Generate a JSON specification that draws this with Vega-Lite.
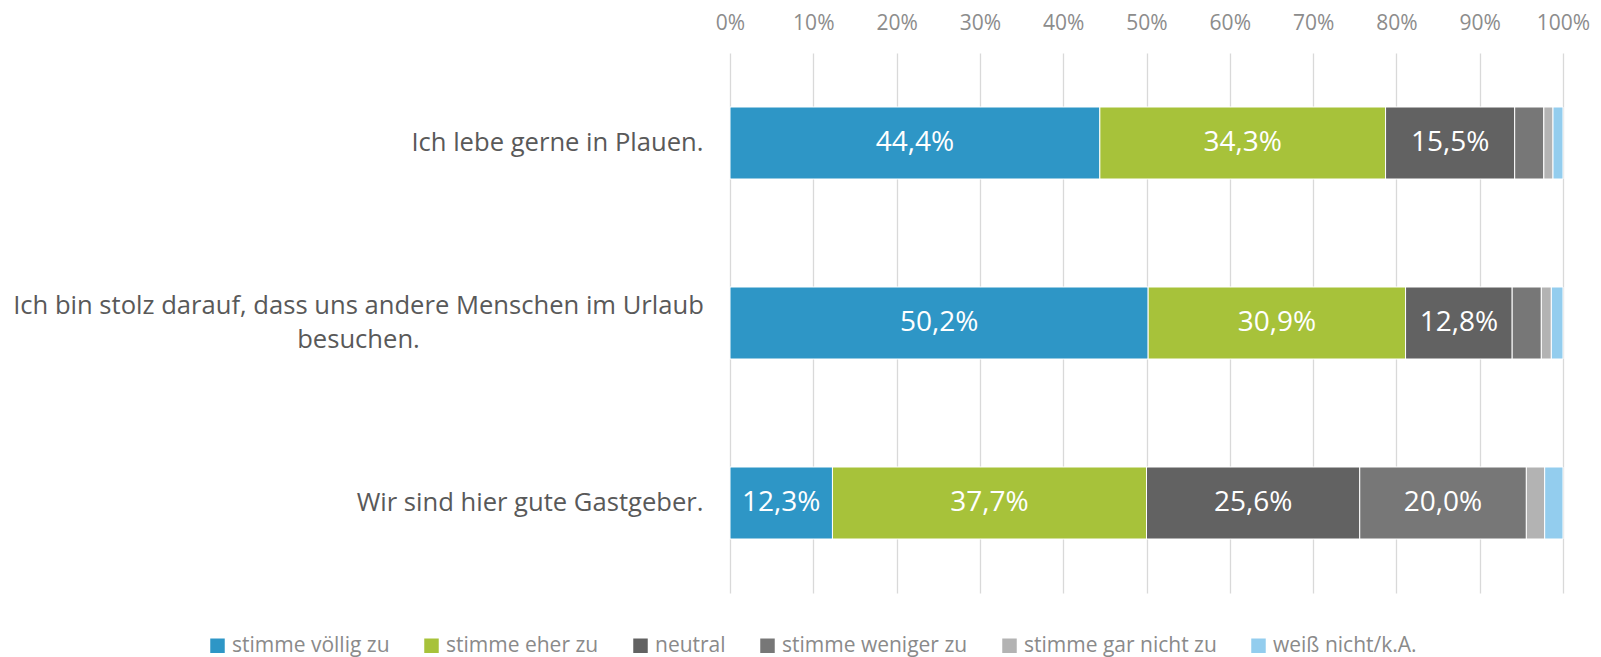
{
  "$schema": "https://vega.github.io/schema/vega-lite/v6.json",
  "autosize": "none",
  "width": 833,
  "height": 540,
  "padding": {"left": 730, "top": 53, "right": 38, "bottom": 64},
  "config": {
    "view": {"stroke": null},
    "font": "Open Sans",
    "locale": {"number": {"decimal": ",", "thousands": ".", "grouping": [3], "currency": ["", " €"]}}
  },
  "data": {"values": [
    {"q": "Ich lebe gerne in Plauen.", "c": "stimme völlig zu", "k": 1, "v": 0.444},
    {"q": "Ich lebe gerne in Plauen.", "c": "stimme eher zu", "k": 2, "v": 0.343},
    {"q": "Ich lebe gerne in Plauen.", "c": "neutral", "k": 3, "v": 0.155},
    {"q": "Ich lebe gerne in Plauen.", "c": "stimme weniger zu", "k": 4, "v": 0.035},
    {"q": "Ich lebe gerne in Plauen.", "c": "stimme gar nicht zu", "k": 5, "v": 0.011},
    {"q": "Ich lebe gerne in Plauen.", "c": "weiß nicht/k.A.", "k": 6, "v": 0.012},
    {"q": "Ich bin stolz darauf, dass uns andere Menschen im Urlaub besuchen.", "c": "stimme völlig zu", "k": 1, "v": 0.502},
    {"q": "Ich bin stolz darauf, dass uns andere Menschen im Urlaub besuchen.", "c": "stimme eher zu", "k": 2, "v": 0.309},
    {"q": "Ich bin stolz darauf, dass uns andere Menschen im Urlaub besuchen.", "c": "neutral", "k": 3, "v": 0.128},
    {"q": "Ich bin stolz darauf, dass uns andere Menschen im Urlaub besuchen.", "c": "stimme weniger zu", "k": 4, "v": 0.035},
    {"q": "Ich bin stolz darauf, dass uns andere Menschen im Urlaub besuchen.", "c": "stimme gar nicht zu", "k": 5, "v": 0.012},
    {"q": "Ich bin stolz darauf, dass uns andere Menschen im Urlaub besuchen.", "c": "weiß nicht/k.A.", "k": 6, "v": 0.014},
    {"q": "Wir sind hier gute Gastgeber.", "c": "stimme völlig zu", "k": 1, "v": 0.123},
    {"q": "Wir sind hier gute Gastgeber.", "c": "stimme eher zu", "k": 2, "v": 0.377},
    {"q": "Wir sind hier gute Gastgeber.", "c": "neutral", "k": 3, "v": 0.256},
    {"q": "Wir sind hier gute Gastgeber.", "c": "stimme weniger zu", "k": 4, "v": 0.200},
    {"q": "Wir sind hier gute Gastgeber.", "c": "stimme gar nicht zu", "k": 5, "v": 0.022},
    {"q": "Wir sind hier gute Gastgeber.", "c": "weiß nicht/k.A.", "k": 6, "v": 0.022}
  ]},
  "transform": [
    {"stack": "v", "groupby": ["q"], "sort": [{"field": "k", "order": "ascending"}], "as": ["x0", "x1"]}
  ],
  "encoding": {
    "y": {
      "field": "q", "type": "nominal",
      "sort": ["Ich lebe gerne in Plauen.", "Ich bin stolz darauf, dass uns andere Menschen im Urlaub besuchen.", "Wir sind hier gute Gastgeber."],
      "scale": {"paddingInner": 0.6, "paddingOuter": 0.3}
    }
  },
  "layer": [
    {
      "mark": {"type": "bar", "stroke": "white", "strokeWidth": 1},
      "encoding": {
        "y": {
          "field": "q", "type": "nominal",
          "sort": ["Ich lebe gerne in Plauen.", "Ich bin stolz darauf, dass uns andere Menschen im Urlaub besuchen.", "Wir sind hier gute Gastgeber."],
          "axis": {
            "title": null, "domain": false, "ticks": false, "tickSize": 0,
            "labelFont": "Open Sans", "labelFontSize": 25.6, "labelColor": "#595959",
            "labelLimit": 1000, "labelLineHeight": 34, "labelBaseline": "middle",
            "labelExpr": "indexof(datum.value, 'stolz') >= 0 ? ['Ich bin stolz darauf, dass uns andere Menschen im Urlaub', 'besuchen.'] : datum.label",
            "labelAlign": {"condition": {"test": "indexof(datum.value, 'stolz') >= 0", "value": "center"}, "value": "right"},
            "labelPadding": {"condition": {"test": "indexof(datum.value, 'stolz') >= 0", "value": 372}, "value": 27},
            "labelOffset": {"condition": {"test": "indexof(datum.value, 'stolz') >= 0", "value": -17}, "value": 0}
          }
        },
        "x": {
          "field": "x0", "type": "quantitative",
          "scale": {"domain": [0, 1], "nice": false},
          "axis": {
            "orient": "top", "title": null, "values": [0, 0.1, 0.2, 0.3, 0.4, 0.5, 0.6, 0.7, 0.8, 0.9, 1],
            "format": ".0%", "domain": false, "ticks": false, "tickSize": 0,
            "grid": true, "gridColor": "#d9d9d9", "gridWidth": 1.3,
            "labelFont": "Open Sans", "labelFontSize": 21, "labelColor": "#8c8c8c",
            "labelPadding": 30, "labelBaseline": "middle", "labelFlush": false
          }
        },
        "x2": {"field": "x1"},
        "color": {
          "field": "c", "type": "nominal",
          "scale": {
            "domain": ["stimme völlig zu", "stimme eher zu", "neutral", "stimme weniger zu", "stimme gar nicht zu", "weiß nicht/k.A."],
            "range": ["#2E96C6", "#A7C23A", "#626262", "#777777", "#B3B3B3", "#93CDEE"]
          },
          "legend": {
            "title": null, "orient": "none", "legendX": -523, "legendY": 582,
            "direction": "horizontal", "symbolType": "square", "symbolSize": 210, "symbolStrokeWidth": 0,
            "labelFont": "Open Sans", "labelFontSize": 21, "labelColor": "#8a8a8a",
            "columnPadding": 31, "labelOffset": 4, "padding": 0, "labelLimit": 400
          }
        }
      }
    },
    {
      "transform": [
        {"filter": "datum.v >= 0.1"},
        {"calculate": "(datum.x0 + datum.x1) / 2", "as": "mid"}
      ],
      "mark": {"type": "text", "color": "white", "font": "Open Sans", "fontSize": 28, "baseline": "middle", "align": "center"},
      "encoding": {
        "x": {"field": "mid", "type": "quantitative"},
        "text": {"field": "v", "type": "quantitative", "format": ".1%"}
      }
    }
  ]
}
